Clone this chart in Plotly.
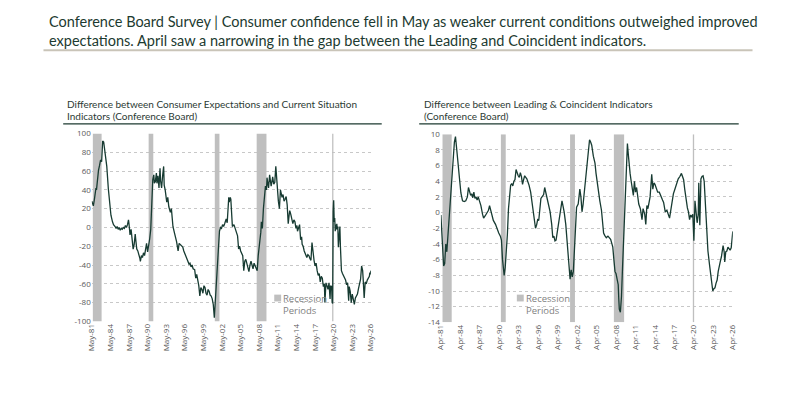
import plotly.graph_objects as go
import pandas as pd

# ---------------- data ----------------
ces_dates = [
    "1981-05", "1981-08", "1981-10",
    "1982-01", "1982-02", "1982-04", "1982-06", "1982-08", "1982-10", "1982-12",
    "1983-02", "1983-04", "1983-05", "1983-07", "1983-09", "1983-10",
    "1984-01", "1984-03", "1984-05", "1984-06", "1984-09", "1984-11",
    "1985-02", "1985-04", "1985-06", "1985-08", "1985-10", "1985-12",
    "1986-02", "1986-04", "1986-06", "1986-08", "1986-10", "1986-12",
    "1987-02", "1987-04", "1987-05", "1987-07", "1987-09", "1987-11",
    "1988-01", "1988-03", "1988-05", "1988-06", "1988-08", "1988-10", "1988-12",
    "1989-02", "1989-03", "1989-05", "1989-07", "1989-09", "1989-11",
    "1990-01", "1990-03", "1990-05", "1990-07", "1990-09", "1990-11",
    "1991-01", "1991-03", "1991-05", "1991-06", "1991-08", "1991-10", "1991-11",
    "1992-01", "1992-03", "1992-05", "1992-06", "1992-08", "1992-10", "1992-12",
    "1993-01", "1993-03", "1993-06", "1993-08", "1993-10",
    "1994-01", "1994-03", "1994-05", "1994-06", "1994-09", "1994-11",
    "1995-01", "1995-04", "1995-06", "1995-08", "1995-11",
    "1996-01", "1996-03", "1996-05", "1996-07", "1996-09", "1996-11",
    "1997-01", "1997-03", "1997-05", "1997-07", "1997-09", "1997-12",
    "1998-02", "1998-04", "1998-06", "1998-08", "1998-10", "1998-12",
    "1999-02", "1999-04", "1999-06", "1999-08", "1999-10", "1999-12",
    "2000-02", "2000-04", "2000-06", "2000-08", "2000-10", "2000-12",
    "2001-02", "2001-04", "2001-05", "2001-07", "2001-09", "2001-11", "2001-12",
    "2002-02", "2002-04", "2002-06", "2002-08", "2002-10",
    "2003-01", "2003-03", "2003-04", "2003-06", "2003-07", "2003-09", "2003-10", "2003-12",
    "2004-01", "2004-04", "2004-06", "2004-08", "2004-11",
    "2005-01", "2005-03", "2005-05", "2005-07", "2005-09", "2005-11",
    "2006-01", "2006-03", "2006-05", "2006-07", "2006-09", "2006-11",
    "2007-01", "2007-03", "2007-05", "2007-07", "2007-09", "2007-11",
    "2008-01", "2008-03", "2008-04", "2008-06", "2008-07", "2008-08", "2008-09", "2008-11",
    "2009-01", "2009-03", "2009-05", "2009-07", "2009-08", "2009-10", "2009-11",
    "2010-01", "2010-03", "2010-04", "2010-06", "2010-07", "2010-09", "2010-11",
    "2011-01", "2011-03", "2011-04", "2011-06", "2011-08", "2011-10", "2011-12",
    "2012-01", "2012-03", "2012-05", "2012-07", "2012-09", "2012-11",
    "2013-01", "2013-03", "2013-04", "2013-06", "2013-08", "2013-10", "2013-12",
    "2014-02", "2014-04", "2014-06", "2014-07", "2014-09", "2014-11",
    "2015-01", "2015-03", "2015-04", "2015-06", "2015-08", "2015-10", "2015-11",
    "2016-01", "2016-03", "2016-05", "2016-07", "2016-09", "2016-11",
    "2017-01", "2017-03", "2017-05", "2017-07", "2017-09", "2017-11",
    "2018-01", "2018-03", "2018-05", "2018-07", "2018-09", "2018-11", "2018-12",
    "2019-02", "2019-04", "2019-06", "2019-08", "2019-10", "2019-11",
    "2020-01", "2020-02", "2020-03", "2020-04", "2020-05", "2020-06", "2020-07",
    "2020-08", "2020-09", "2020-10", "2020-11", "2020-12",
    "2021-01", "2021-02", "2021-03", "2021-05", "2021-06", "2021-08", "2021-10", "2021-12",
    "2022-02", "2022-04", "2022-06", "2022-08", "2022-10", "2022-11",
    "2023-01", "2023-03", "2023-05", "2023-07", "2023-09", "2023-11",
    "2024-01", "2024-03", "2024-05", "2024-07", "2024-09", "2024-11",
    "2025-01", "2025-02", "2025-04", "2025-06", "2025-08", "2025-10", "2025-12",
    "2026-02", "2026-03", "2026-04", "2026-05",
]
ces_values = [
    28, 23, 30,
    42, 40, 52, 61, 66, 72, 70,
    92, 91, 86, 75, 68, 65,
    41, 32, 18, 13, 6, 3,
    1, -1, 1, -2, 0, -3,
    -1, -2, 0, -1, 2, 0,
    3, 8, 4, -8, -2, -15,
    -23, -18, -7, -13, -23, -25, -28,
    -33, -36, -30, -32, -27, -30,
    -22, -17, -26, -20, -12, -2,
    23, 51, 56, 47, 49, 58, 47,
    55, 42, 63, 50, 42, 55, 65,
    45, 40, 27, 32, 22,
    16, 20, 8, 1, -6, -10,
    -15, -25, -17, -18, -20,
    -21, -25, -28, -30, -32, -36,
    -39, -38, -42, -40, -44, -45,
    -54, -50, -56, -62, -73, -64,
    -66, -70, -62, -64, -70, -72,
    -66, -68, -72, -73, -76, -82,
    -96, -80, -73, -50, -35, -15, -4,
    0, -1, 3, 1, 4,
    9, 5, 20, 32, 27, 32, 30, 13,
    1, 3, -1, -4, -9,
    -23, -20, -25, -28, -30, -46,
    -36, -34, -39, -42, -47, -40,
    -36, -40, -44, -38, -41, -43,
    -46, -30, -25, -18, -15, -5, 6, -1,
    20, 32, 44, 40, 53, 45, 42,
    56, 46, 44, 50, 54, 46, 48,
    65, 48, 42, 28, 20, 40, 35,
    32, 35, 28, 30, 33, 24,
    4, 14, 18, 14, 10, 4, 8,
    6, -1, 2, -4, 0, 3,
    -13, -10, -18, -20, -25, -28, -30,
    -32, -29, -30, -33, -35, -16,
    -30, -35, -41, -38, -46, -51,
    -49, -58, -52, -54, -63, -60, -80,
    -59, -62, -66, -59, -76, -62,
    -63, -80, -81, 17, 29, 6, 10,
    -4, 3, -2, 4, -2,
    1, -21, -8, 1, -20, -46, -49, -51,
    -53, -56, -61, -59, -78, -63,
    -68, -80, -71, -78, -82, -75,
    -72, -71, -65, -61, -55, -41,
    -46, -55, -75, -58, -60, -56, -53,
    -52, -48, -50, -46,
]

lci_dates = [
    "1981-04", "1981-07", "1981-09", "1981-11",
    "1982-01", "1982-03", "1982-05", "1982-08", "1982-11",
    "1983-02", "1983-05", "1983-07", "1983-09", "1983-11",
    "1984-02", "1984-05", "1984-08", "1984-11",
    "1985-02", "1985-05", "1985-07", "1985-09", "1985-11",
    "1986-01", "1986-03", "1986-05", "1986-07", "1986-09", "1986-11",
    "1987-01", "1987-03", "1987-06", "1987-09", "1987-11",
    "1988-02", "1988-05", "1988-08", "1988-10", "1988-12",
    "1989-02", "1989-05", "1989-09", "1989-12",
    "1990-03", "1990-06", "1990-08", "1990-10", "1990-12",
    "1991-01", "1991-03", "1991-05", "1991-07", "1991-09", "1991-11",
    "1992-01", "1992-03", "1992-05", "1992-07", "1992-09", "1992-11",
    "1993-01", "1993-03", "1993-05", "1993-07", "1993-09", "1993-11",
    "1994-01", "1994-03", "1994-05", "1994-07", "1994-09", "1994-11",
    "1995-02", "1995-05", "1995-08", "1995-11",
    "1996-01", "1996-03", "1996-05", "1996-07", "1996-09", "1996-11",
    "1997-02", "1997-04", "1997-06", "1997-08", "1997-11",
    "1998-02", "1998-05", "1998-07", "1998-09", "1998-11",
    "1999-01", "1999-04", "1999-07", "1999-09", "1999-12",
    "2000-02", "2000-04", "2000-07", "2000-10",
    "2001-01", "2001-03", "2001-05", "2001-07", "2001-09", "2001-11",
    "2002-01", "2002-03", "2002-06", "2002-09", "2002-11",
    "2003-01", "2003-03", "2003-06", "2003-09", "2003-12",
    "2004-03", "2004-05", "2004-07", "2004-10",
    "2005-01", "2005-03", "2005-05", "2005-07", "2005-10",
    "2006-01", "2006-03", "2006-05", "2006-07", "2006-10",
    "2007-01", "2007-03", "2007-06", "2007-08", "2007-10", "2007-12",
    "2008-02", "2008-04", "2008-06", "2008-08", "2008-09", "2008-10", "2008-12",
    "2009-02", "2009-04", "2009-06", "2009-08", "2009-10",
    "2010-01", "2010-03", "2010-04", "2010-06", "2010-08", "2010-10", "2010-12",
    "2011-02", "2011-04", "2011-06", "2011-08", "2011-10",
    "2012-01", "2012-04", "2012-06", "2012-09", "2012-11",
    "2013-01", "2013-03", "2013-05", "2013-07", "2013-10", "2013-12",
    "2014-02", "2014-04", "2014-06", "2014-09", "2014-12",
    "2015-03", "2015-06", "2015-08", "2015-11",
    "2016-02", "2016-05", "2016-07", "2016-09", "2016-11",
    "2017-02", "2017-05", "2017-08", "2017-11",
    "2018-02", "2018-05", "2018-07", "2018-09", "2018-11",
    "2019-02", "2019-04", "2019-06", "2019-08", "2019-10", "2019-12",
    "2020-02", "2020-04", "2020-06", "2020-08", "2020-10", "2020-12",
    "2021-01", "2021-03", "2021-05", "2021-07", "2021-09", "2021-11", "2021-12",
    "2022-02", "2022-04", "2022-06", "2022-09", "2022-11",
    "2023-03", "2023-05", "2023-07", "2023-09", "2023-11",
    "2024-01", "2024-03", "2024-05", "2024-07", "2024-09", "2024-10", "2024-12",
    "2025-01", "2025-03", "2025-05", "2025-07", "2025-09", "2025-11",
    "2026-01", "2026-03", "2026-04",
]
lci_values = [
    -0.3, -5.5, -6.8, -6.5,
    -4.0, -5.0, -3.0, 0.9, 4.0,
    7.0, 9.0, 9.7, 8.5, 6.8,
    4.6, 2.5, 1.5, 1.4,
    1.5, 2.0, 3.2, 2.8, 2.2,
    2.4, 1.9, 2.6, 1.8, 2.0, 1.6,
    2.0, 1.6, 0.9, -0.2, -0.7,
    -0.4, -0.1, 0.3, 0.9, 0.3,
    -0.5, -1.0, -1.5, -2.2,
    -2.6, -3.0, -3.5, -6.0, -7.5,
    -8.0, -7.0, -5.0, -2.8, 0.5, 2.6,
    3.5, 3.7, 3.4, 4.0, 4.2, 5.5,
    4.9, 4.7, 4.5, 5.1, 4.6, 3.6,
    4.2, 4.7, 4.5, 4.3, 3.9, 3.5,
    2.6, 0.9, -0.5, -2.0,
    -1.6, -0.9, -1.0, 0.3, 1.8, 2.0,
    2.3, 3.2, 2.6, 2.0, 1.0,
    0.1, -1.5, -3.2, -3.0, -3.6,
    -3.5, -2.0, -0.5, 0.5, 1.5,
    0.8, 0.1, -1.5, -4.5,
    -7.3, -8.5, -7.3, -8.2, -7.5, -4.4,
    -1.0, 0.7, 1.1, 3.0, 2.0,
    0.1, 1.0, 3.0, 5.5, 7.5,
    9.3, 9.0, 8.6, 7.2,
    6.3, 5.0, 3.8, 3.3, 1.5,
    0.3, -1.5, -2.6, -2.9, -3.2,
    -3.0, -3.2, -3.4, -3.9, -4.4, -6.0,
    -7.5, -7.8, -8.5, -9.2, -11.0, -12.3, -12.7,
    -10.7, -7.0, -3.6, 1.0, 4.6,
    8.8, 7.2, 6.3, 5.0, 4.0, 3.0, 2.2,
    4.0, 2.6, 3.2, 2.0, 1.1,
    0.5, -0.9, 0.5, -0.2, -1.5,
    0.9, 0.5, 1.3, 2.0, 4.9, 3.0,
    3.8, 3.6, 3.2, 2.6, 2.6,
    2.0, 1.6, 1.3, 0.1,
    0.3, -0.3, -0.7, 0.2, 1.1,
    2.4, 3.0, 3.8, 4.3,
    4.6, 5.0, 4.6, 4.2, 3.0,
    1.3, 0.6, 0.1, -0.9, -0.3, -0.6,
    -0.2, -3.6, 1.5, -0.1, -1.3, -0.3,
    3.8, -1.6, 4.3, 4.6, 4.7, 4.0, 2.7,
    -1.0, -2.5, -4.9, -6.7, -7.8,
    -10.0, -9.7, -9.6, -9.0, -8.6,
    -7.5, -7.0, -6.2, -5.6, -4.5, -4.2, -5.0,
    -6.3, -5.0, -4.9, -4.4, -4.6, -4.8,
    -4.5, -3.5, -2.4,
]

ces_tick_labels = ["May-81", "May-84", "May-87", "May-90", "May-93", "May-96", "May-99",
                   "May-02", "May-05", "May-08", "May-11", "May-14", "May-17", "May-20",
                   "May-23", "May-26"]
lci_tick_labels = ["Apr-81", "Apr-84", "Apr-87", "Apr-90", "Apr-93", "Apr-96", "Apr-99",
                   "Apr-02", "Apr-05", "Apr-08", "Apr-11", "Apr-14", "Apr-17", "Apr-20",
                   "Apr-23", "Apr-26"]

recession_start = ["1981-07-01", "1990-07-01", "2001-03-01", "2007-12-01", "2020-02-01"]
recession_end = ["1982-11-30", "1991-03-31", "2001-11-30", "2009-06-30", "2020-04-15"]

ces_range = [-100, 100]
lci_range = [-14, 10]
ces_yticks = list(range(-100, 101, 20))
lci_yticks = list(range(-14, 11, 2))

title_text = ("Conference Board Survey | Consumer confidence fell in May as weaker current conditions outweighed improved<br>"
              "expectations. April saw a narrowing in the gap between the Leading and Coincident indicators.")
ces_title_lines = ["Difference between Consumer Expectations and Current Situation",
                   "Indicators (Conference Board)"]
lci_title_lines = ["Difference between Leading &amp; Coincident Indicators",
                   "(Conference Board)"]

# ---------------- styling ----------------
W, H = 795, 414
LINE = "#173b32"
GREEN = "#1c3a30"
GRID = "#c8c8c8"
TICK = "#595959"
REC = "#bfbfbf"
TFONT = "Lato"
AFONT = "Open Sans"


def px(x):
    return x / W


def py(y):
    return 1 - y / H


def to_dates(lst):
    return [str(d.date()) for d in pd.to_datetime(lst, format="%Y-%m")]


def tick_dates(labels):
    return [str(d.date()) for d in pd.to_datetime(labels, format="%b-%y")]


fig = go.Figure()

# recession shading as filled polygons (drawn above grid, below the line)
for xa, ya, rng in (("x", "y", ces_range), ("x2", "y2", lci_range)):
    for s, e in zip(recession_start, recession_end):
        fig.add_trace(go.Scatter(x=[s, s, e, e, s], y=[rng[0], rng[1], rng[1], rng[0], rng[0]],
                                 mode="lines", fill="toself", fillcolor=REC,
                                 line=dict(width=0, color=REC), xaxis=xa, yaxis=ya,
                                 showlegend=False, hoverinfo="skip"))

fig.add_trace(go.Scatter(x=to_dates(ces_dates), y=ces_values, mode="lines",
                         line=dict(color=LINE, width=1.3), xaxis="x", yaxis="y",
                         showlegend=False, hoverinfo="skip"))
fig.add_trace(go.Scatter(x=to_dates(lci_dates), y=lci_values, mode="lines",
                         line=dict(color=LINE, width=1.3), xaxis="x2", yaxis="y2",
                         showlegend=False, hoverinfo="skip"))

shapes = [
    dict(type="line", xref="paper", yref="paper", x0=px(38), x1=px(757),
         y0=py(45.5), y1=py(45.5), line=dict(color="#c9c4b8", width=2)),
    dict(type="line", xref="paper", yref="paper", x0=px(58), x1=px(381),
         y0=py(121), y1=py(121), line=dict(color=GREEN, width=1.3)),
    dict(type="line", xref="paper", yref="paper", x0=px(419), x1=px(743),
         y0=py(121), y1=py(121), line=dict(color=GREEN, width=1.3)),
    dict(type="rect", xref="paper", yref="paper", x0=px(272), x1=px(279),
         y0=py(303.5), y1=py(296.5), fillcolor=REC, line=dict(width=0)),
    dict(type="rect", xref="paper", yref="paper", x0=px(518), x1=px(525),
         y0=py(303.5), y1=py(296.5), fillcolor=REC, line=dict(width=0)),
]


def txt(text, x, y, size, color, family, anchor="middle"):
    return dict(text=text, xref="paper", yref="paper", x=px(x), y=py(y),
                xanchor="left", yanchor=anchor, align="left", showarrow=False,
                borderpad=0, font=dict(family=family, size=size, color=color))


annotations = [
    txt(title_text, 43, 25.5, 14.5, GREEN, TFONT),
    txt(ces_title_lines[0], 61, 101, 10, "#2b3a34", TFONT),
    txt(ces_title_lines[1], 61, 112.5, 10, "#2b3a34", TFONT),
    txt(lci_title_lines[0], 423, 101, 10, "#2b3a34", TFONT),
    txt(lci_title_lines[1], 423, 112.5, 10, "#2b3a34", TFONT),
    txt("Recession", 280, 300, 9.5, "#7f7f7f", AFONT),
    txt("Periods", 280, 313, 9.5, "#7f7f7f", AFONT),
    txt("Recession", 526, 300, 9.5, "#7f7f7f", AFONT),
    txt("Periods", 526, 313, 9.5, "#7f7f7f", AFONT),
]

xcommon = dict(type="date", showgrid=False, zeroline=False, showline=False, ticks="",
               tickangle=-90, tickfont=dict(family=AFONT, size=8, color=TICK))
ycommon = dict(showgrid=True, gridcolor=GRID, griddash="dot", gridwidth=1, zeroline=False,
               showline=False, ticks="", tickfont=dict(family=AFONT, size=8, color=TICK))

fig.update_layout(
    width=W, height=H, margin=dict(l=0, r=0, t=0, b=0),
    paper_bgcolor="white", plot_bgcolor="white",
    xaxis=dict(**xcommon, domain=[px(87), px(370)], anchor="y",
               range=["1981-05-01", "2026-05-01"],
               tickvals=tick_dates(ces_tick_labels), ticktext=ces_tick_labels),
    yaxis=dict(**ycommon, domain=[py(324), py(131)], anchor="x", range=ces_range,
               tickvals=ces_yticks, ticktext=[str(v) for v in ces_yticks]),
    xaxis2=dict(**xcommon, domain=[px(441), px(737)], anchor="y2",
                range=["1981-04-01", "2026-04-01"],
                tickvals=tick_dates(lci_tick_labels), ticktext=lci_tick_labels),
    yaxis2=dict(**ycommon, domain=[py(325), py(131.7)], anchor="x2", range=lci_range,
                tickvals=lci_yticks, ticktext=[str(v) for v in lci_yticks]),
    shapes=shapes, annotations=annotations, showlegend=False,
)

fig.write_html("out.html", config={"displayModeBar": False},
               post_script="document.body.style.margin='0';document.documentElement.style.overflow='hidden';")
